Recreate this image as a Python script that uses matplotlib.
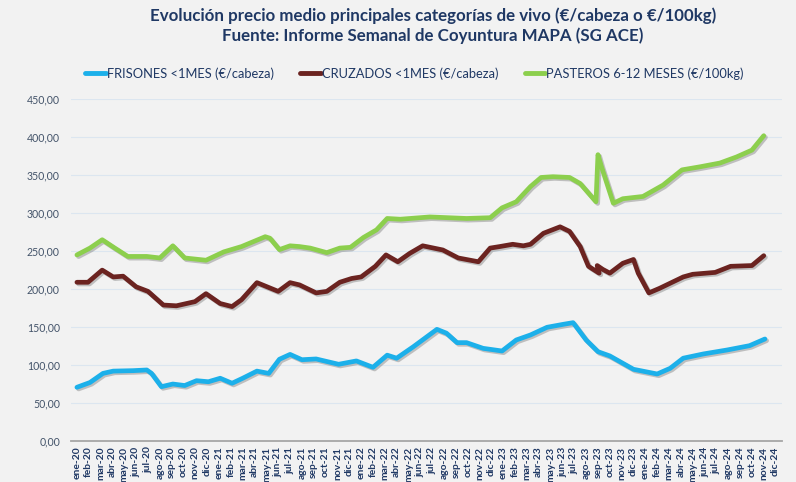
import matplotlib
matplotlib.use("Agg")
import matplotlib.pyplot as plt
import matplotlib.patheffects as pe
from matplotlib.ticker import FuncFormatter, MultipleLocator

# ---------------- data ----------------
months = ["ene", "feb", "mar", "abr", "may", "jun", "jul", "ago", "sep", "oct", "nov", "dic"]
years = ["20", "21", "22", "23", "24"]
categories = [f"{m}-{y}" for y in years for m in months]

frisones_dates = ["2020-01-01", "2020-02-04", "2020-03-07", "2020-04-03", "2020-05-23", "2020-06-28",
                  "2020-07-10", "2020-08-05", "2020-09-04", "2020-10-04", "2020-11-04", "2020-12-04",
                  "2021-01-04", "2021-02-04", "2021-03-01", "2021-04-07", "2021-05-07", "2021-06-04",
                  "2021-07-01", "2021-08-01", "2021-09-07", "2021-11-04", "2021-12-19", "2022-02-01",
                  "2022-03-07", "2022-04-01", "2022-05-13", "2022-07-13", "2022-08-07", "2022-09-04",
                  "2022-09-28", "2022-11-10", "2022-12-28", "2023-02-04", "2023-03-10", "2023-04-22",
                  "2023-06-04", "2023-06-28", "2023-08-01", "2023-09-01", "2023-10-01", "2023-12-01",
                  "2024-02-01", "2024-03-04", "2024-04-07", "2024-05-28", "2024-07-28", "2024-09-25",
                  "2024-11-04"]
frisones = [70.7, 77, 89, 92, 92.6, 93.5,
            89, 71.5, 75, 73, 79.4, 78,
            82.6, 76, 82.6, 92, 89, 107.6,
            114, 107, 108, 101, 105.4, 97,
            113, 109, 124, 147, 142, 129.5,
            129.5, 122, 118.5, 133, 139.6, 149.7,
            153.7, 155.8, 133, 117.6, 112, 94.4,
            88.2, 95.7, 109, 114.6, 119.8, 125.5,
            134.3]

cruzados_dates = ["2020-01-01", "2020-01-29", "2020-03-05", "2020-04-03", "2020-04-28", "2020-06-01",
                  "2020-07-01", "2020-08-10", "2020-09-13", "2020-10-30", "2020-11-28", "2021-01-04",
                  "2021-02-04", "2021-02-28", "2021-04-07", "2021-06-01", "2021-07-01", "2021-07-25",
                  "2021-09-07", "2021-10-04", "2021-11-07", "2021-12-07", "2022-01-01", "2022-02-07",
                  "2022-03-04", "2022-04-04", "2022-05-04", "2022-06-07", "2022-07-28", "2022-09-07",
                  "2022-10-28", "2022-11-28", "2022-12-22", "2023-01-25", "2023-02-22", "2023-03-10",
                  "2023-04-13", "2023-05-25", "2023-06-19", "2023-07-16", "2023-08-07", "2023-09-04",
                  "2023-08-29", "2023-09-13", "2023-10-01", "2023-11-04", "2023-12-01", "2023-12-13",
                  "2024-01-10", "2024-02-07", "2024-04-07", "2024-05-01", "2024-06-28", "2024-08-07",
                  "2024-10-01", "2024-11-01"]
cruzados = [209, 209, 225, 216, 217, 203,
            197, 179, 178, 183.5, 194, 181,
            177, 186, 208.5, 197, 208.5, 205.5,
            195, 197, 209, 214, 216, 230,
            245, 236, 247, 257, 251.5, 241,
            236, 254, 256, 259, 257, 259,
            273.5, 282, 276, 256, 230, 221,
            231, 226, 221, 234, 239, 221,
            195, 201, 216, 219.5, 222, 230,
            231, 244]

pasteros_dates = ["2020-01-01", "2020-02-04", "2020-03-05", "2020-04-07", "2020-05-10", "2020-06-28",
                  "2020-08-01", "2020-09-04", "2020-10-04", "2020-11-28", "2021-01-13", "2021-02-28",
                  "2021-04-28", "2021-05-10", "2021-06-04", "2021-07-01", "2021-07-25", "2021-08-22",
                  "2021-10-04", "2021-11-07", "2021-12-04", "2022-01-07", "2022-02-10", "2022-03-07",
                  "2022-04-10", "2022-06-25", "2022-09-28", "2022-11-28", "2022-12-28", "2023-02-04",
                  "2023-03-10", "2023-04-07", "2023-05-07", "2023-06-19", "2023-07-16", "2023-08-26",
                  "2023-09-01", "2023-09-10", "2023-10-10", "2023-11-04", "2023-12-25", "2024-02-16",
                  "2024-04-04", "2024-05-19", "2024-07-10", "2024-08-22", "2024-10-01", "2024-11-01"]
pasteros = [245, 254, 265, 254, 243, 243,
            241, 257, 241, 238, 249, 256,
            269, 267, 252, 257, 256, 254,
            248, 254, 255, 268, 278, 293,
            292, 295, 293, 294, 307, 315,
            335, 347, 348, 347, 339, 315,
            377, 361, 313, 319, 322, 337,
            357, 361, 366, 374, 383, 402]

series_names = ["FRISONES <1MES (€/cabeza)", "CRUZADOS <1MES (€/cabeza)", "PASTEROS 6-12 MESES (€/100kg)"]
series_colors = ["#1CB0EA", "#6B2320", "#8CCF4D"]

title = "Evolución precio medio principales categorías de vivo (€/cabeza o €/100kg)\nFuente: Informe Semanal de Coyuntura MAPA (SG ACE)"


def to_pos(d):
    y, m, dd = (int(v) for v in d.split("-"))
    return (y - 2020) * 12 + (m - 1) + (dd - 1) / 30.0


# ---------------- figure ----------------
BG = "#F2F2F2"
NAVY = "#1F3864"
FAM = ["Lato", "DejaVu Sans"]
fig = plt.figure(figsize=(7.96, 4.82), dpi=100, facecolor=BG)
ax = fig.add_axes([0.0892, 0.0851, 0.8926, 0.709], facecolor=BG)

shadow = [pe.SimpleLineShadow(offset=(1.2, -1.2), shadow_color="#808080", alpha=0.45), pe.Normal()]
for dates, vals, name, col in zip([frisones_dates, cruzados_dates, pasteros_dates],
                                  [frisones, cruzados, pasteros], series_names, series_colors):
    ax.plot([to_pos(d) for d in dates], vals, color=col, lw=3.4, label=name,
            solid_joinstyle="round", solid_capstyle="round", path_effects=shadow, zorder=3)

ax.set_xlim(-0.5, len(categories) - 0.5)
ax.set_ylim(0, 450)
ax.yaxis.set_major_locator(MultipleLocator(50))
ax.yaxis.set_major_formatter(FuncFormatter(lambda v, p: f"{v:.2f}".replace(".", ",")))
ax.grid(axis="y", color="#DCE6F0", lw=0.8, zorder=0)
ax.set_axisbelow(True)
for s in ["top", "right", "left"]:
    ax.spines[s].set_visible(False)
ax.spines["bottom"].set_color("#A6A6A6")
ax.spines["bottom"].set_linewidth(1.3)

ax.set_xticks(range(len(categories)))
ax.set_xticklabels(categories, rotation=90, fontsize=7.4, fontweight="bold", color=NAVY, family=FAM)
ax.tick_params(axis="x", length=0, pad=4)
ax.tick_params(axis="y", length=0, pad=8, labelsize=7.6, labelcolor="#44546A")
for t in ax.get_yticklabels():
    t.set_family(FAM)

fig.text(0.544, 0.985, title, ha="center", va="top", fontsize=12.2, fontweight="bold",
         color=NAVY, family=FAM, linespacing=1.25)

leg = fig.legend(loc="center", bbox_to_anchor=(0.521, 0.847), ncol=3, frameon=False,
                 prop={"family": FAM, "size": 9.3}, handlelength=1.6,
                 handletextpad=0.1, columnspacing=2.0)
for t in leg.get_texts():
    t.set_color(NAVY)
for h in leg.get_lines():
    h.set_linewidth(3.5)
    h.set_path_effects([])

fig.savefig("out.png", dpi=100, facecolor=BG)
